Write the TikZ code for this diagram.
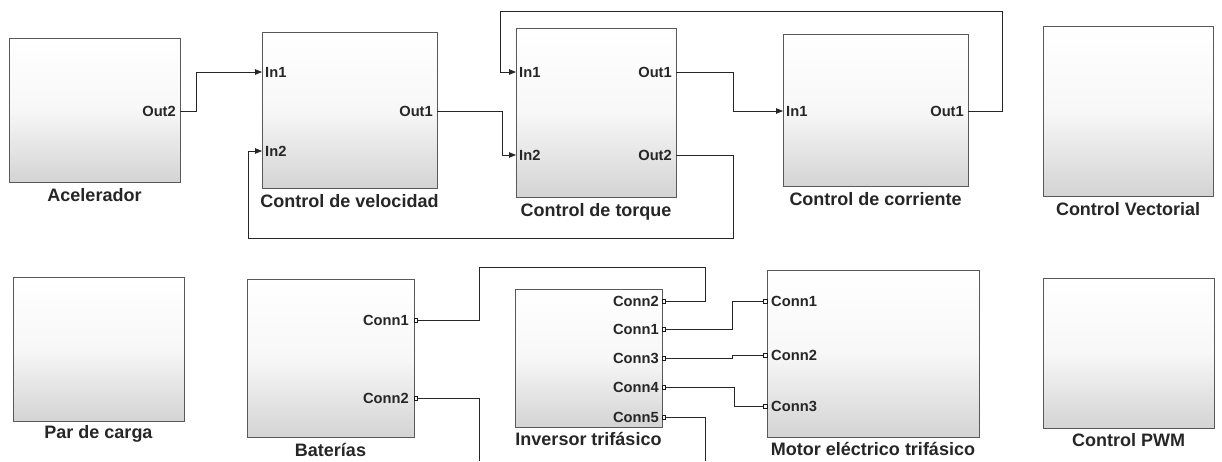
\documentclass[tikz,border=0pt]{standalone}
\usepackage{fontspec}
\setmainfont{Liberation Sans}
\usetikzlibrary{arrows.meta,shadows}
\begin{document}
\begin{tikzpicture}[x=1pt,y=-1pt,
 blk/.style={draw=black!65, line width=0.9pt, top color=white, bottom color=black!17, middle color=black!3,
   drop shadow={shadow xshift=1.3pt, shadow yshift=-1.3pt, opacity=0.35},
   inner sep=0pt, outer sep=0pt, anchor=north west},
 ttl/.style={font=\fontsize{18}{21}\selectfont\bfseries, text=black!85, anchor=base, inner sep=0pt, yshift=-19pt},
 plbl/.style={font=\fontsize{14.7}{16}\selectfont\bfseries, text=black!85, inner sep=0pt, text height=10.5pt, text depth=0pt},
 wire/.style={draw=black!85, line width=0.8pt},
 sig/.style={wire, -{Triangle[length=7pt,width=5.5pt]}},
 cport/.style={draw=black!90, fill=white, line width=0.8pt, minimum size=3.8pt, inner sep=0pt, outer sep=0pt}
]
\path[fill=white, use as bounding box] (0,0) rectangle (1222,461);

% ---- blocks, top row
\node[blk, minimum width=171pt, minimum height=144pt] (acel) at (9,38) {};
\node[blk, minimum width=175pt, minimum height=156pt] (vel) at (262,32) {};
\node[blk, minimum width=160pt, minimum height=169pt] (torq) at (516,28) {};
\node[blk, minimum width=185pt, minimum height=152pt] (corr) at (783,34) {};
\node[blk, minimum width=170pt, minimum height=170pt] (vect) at (1043,26) {};
% ---- blocks, bottom row
\node[blk, minimum width=171pt, minimum height=144pt] (par) at (13,277) {};
\node[blk, minimum width=167pt, minimum height=158pt] (bat) at (247,279) {};
\node[blk, minimum width=147pt, minimum height=138pt] (inv) at (515,289) {};
\node[blk, minimum width=212pt, minimum height=167pt] (mot) at (767,270) {};
\node[blk, minimum width=171pt, minimum height=150pt] (pwm) at (1043,278) {};

% ---- titles
\node[ttl] (acel-t) at (acel.south) {Acelerador};
\node[ttl] (vel-t) at (vel.south) {Control de velocidad};
\node[ttl] (torq-t) at (torq.south) {Control de torque};
\node[ttl] (corr-t) at (corr.south) {Control de corriente};
\node[ttl] (vect-t) at (vect.south) {Control Vectorial};
\node[ttl, yshift=2pt] (par-t) at (par.south) {Par de carga};
\node[ttl] (bat-t) at (bat.south) {Baterías};
\node[ttl, yshift=1pt] (inv-t) at (inv.south) {Inversor trifásico};
\node[ttl, yshift=1pt] (mot-t) at (mot.south) {Motor eléctrico trifásico};
\node[ttl, yshift=1pt] (pwm-t) at (pwm.south) {Control PWM};

% ---- signal ports
\coordinate (acel-o2) at (180,111);
\coordinate (vel-i1) at (262,72);
\coordinate (vel-i2) at (262,151);
\coordinate (vel-o1) at (437,111);
\coordinate (torq-i1) at (516,72);
\coordinate (torq-i2) at (516,155);
\coordinate (torq-o1) at (676,72);
\coordinate (torq-o2) at (676,155);
\coordinate (corr-i1) at (783,111);
\coordinate (corr-o1) at (968,111);

\node[plbl, anchor=east] (acel-o2l) at (176,111) {Out2};
\node[plbl, anchor=west] (vel-i1l) at (265,72) {In1};
\node[plbl, anchor=west] (vel-i2l) at (265,151) {In2};
\node[plbl, anchor=east] (vel-o1l) at (433,111) {Out1};
\node[plbl, anchor=west] (torq-i1l) at (519,72) {In1};
\node[plbl, anchor=west] (torq-i2l) at (519,155) {In2};
\node[plbl, anchor=east] (torq-o1l) at (672,72) {Out1};
\node[plbl, anchor=east] (torq-o2l) at (672,155) {Out2};
\node[plbl, anchor=west] (corr-i1l) at (786,111) {In1};
\node[plbl, anchor=east] (corr-o1l) at (964,111) {Out1};

% ---- signal wires
\draw[sig] (acel-o2) -- ++(16,0) |- (vel-i1);
\draw[sig] (vel-o1) -- ++(65,0) |- (torq-i2);
\draw[sig] (corr-o1) -- ++(34,0) |- (500,11) |- (torq-i1);
\draw[sig] (torq-o1) -- ++(57,0) |- (corr-i1);
\draw[sig] (torq-o2) -- ++(57,0) |- (248,238) |- (vel-i2);

% ---- physical ports
\node[cport, anchor=west] (bat-c1) at (414,320) {};
\node[cport, anchor=west] (bat-c2) at (414,398) {};
\node[cport, anchor=west] (inv-c2) at (662,301) {};
\node[cport, anchor=west] (inv-c1) at (662,329) {};
\node[cport, anchor=west] (inv-c3) at (662,358) {};
\node[cport, anchor=west] (inv-c4) at (662,387) {};
\node[cport, anchor=west] (inv-c5) at (662,417) {};
\node[cport, anchor=east] (mot-c1) at (767,301) {};
\node[cport, anchor=east] (mot-c2) at (767,355) {};
\node[cport, anchor=east] (mot-c3) at (767,406) {};

\node[plbl, anchor=east] (bat-c1l) at (409,320) {Conn1};
\node[plbl, anchor=east] (bat-c2l) at (409,398) {Conn2};
\node[plbl, anchor=east] (inv-c2l) at (659,301) {Conn2};
\node[plbl, anchor=east] (inv-c1l) at (659,329) {Conn1};
\node[plbl, anchor=east] (inv-c3l) at (659,358) {Conn3};
\node[plbl, anchor=east] (inv-c4l) at (659,387) {Conn4};
\node[plbl, anchor=east] (inv-c5l) at (659,417) {Conn5};
\node[plbl, anchor=west] (mot-c1l) at (771,301) {Conn1};
\node[plbl, anchor=west] (mot-c2l) at (771,355) {Conn2};
\node[plbl, anchor=west] (mot-c3l) at (771,406) {Conn3};

% ---- physical wires
\coordinate (batend) at (479,461);
\coordinate (invend) at (705,461);
\draw[wire] (bat-c1.east) -| (479,267) -| (705,301) -- (inv-c2.east);
\draw[wire] (bat-c2.east) -| (batend);
\draw[wire] (inv-c5.east) -| (invend);
\draw[wire] (inv-c1.east) -- (732,329) |- (mot-c1.west);
\draw[wire] (inv-c3.east) -- (732,358) |- (mot-c2.west);
\draw[wire] (inv-c4.east) -- (734,387) |- (mot-c3.west);
\end{tikzpicture}
\end{document}
